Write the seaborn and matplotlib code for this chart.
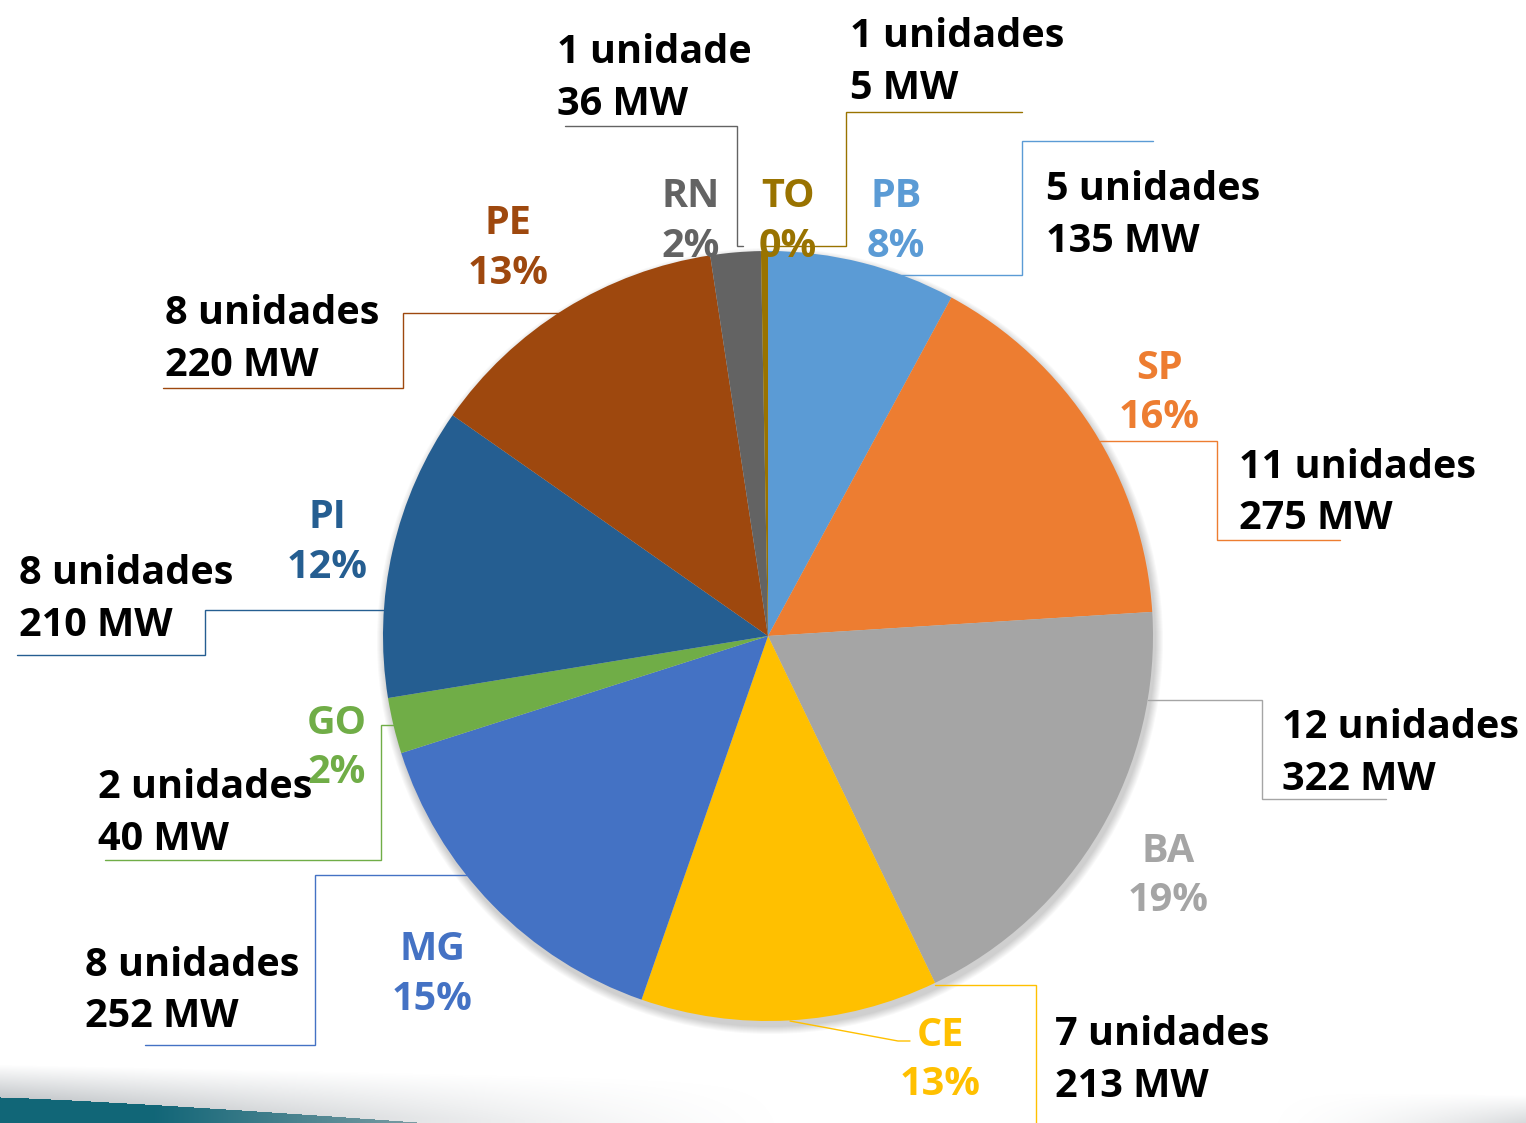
import numpy as np
import matplotlib
matplotlib.use("Agg")
import matplotlib.pyplot as plt
import seaborn as sns
from matplotlib.patches import Circle

# ---------------- data ----------------
states = ["PB", "SP", "BA", "CE", "MG", "GO", "PI", "PE", "RN", "TO"]
mw = [135, 275, 322, 213, 252, 40, 210, 220, 36, 5]
pct_labels = ["8%", "16%", "19%", "13%", "15%", "2%", "12%", "13%", "2%", "0%"]
unit_labels = ["5 unidades", "11 unidades", "12 unidades", "7 unidades", "8 unidades",
               "2 unidades", "8 unidades", "8 unidades", "1 unidade", "1 unidades"]
mw_labels = [f"{v} MW" for v in mw]
colors = ["#5B9BD5", "#ED7D31", "#A5A5A5", "#FFC000", "#4472C4",
          "#70AD47", "#255E91", "#9E480E", "#636363", "#997300"]

# ---------------- layout (pixel coordinates, y downward) ----------------
W, H = 1526, 1123
CX, CY, R = 768, 636, 385

# state label: centre x, baseline of name, baseline of percentage
state_pos = {
    "PB": (896, 207, 257), "SP": (1159, 379, 428), "BA": (1168, 862, 911),
    "CE": (940, 1046, 1095), "MG": (432, 960, 1010), "GO": (337, 734, 783),
    "PI": (327, 528, 578), "PE": (508, 234, 284), "RN": (691, 207, 257),
    "TO": (788, 207, 257),
}
# info label: left x, baseline line 1, baseline line 2
info_pos = {
    "PB": (1046, 200, 252), "SP": (1239, 478, 529), "BA": (1282, 738, 790),
    "CE": (1055, 1045, 1097), "MG": (85, 976, 1027), "GO": (98, 798, 850),
    "PI": (19, 584, 636), "PE": (165, 324, 376), "RN": (557, 63, 115),
    "TO": (850, 47, 99),
}
# leader lines
leaders = {
    "PB": [[(872, 275), (1022, 275), (1022, 141), (1153, 141)]],
    "SP": [[(1100, 441), (1217, 441), (1217, 540), (1340, 540)]],
    "BA": [[(1148, 700), (1262, 700), (1262, 799), (1386, 799)]],
    "CE": [[(790, 1021), (898, 1041), (910, 1041)],
           [(935, 985), (1036, 985), (1036, 1123)]],
    "MG": [[(468, 875), (315, 875), (315, 1045), (145, 1045)]],
    "GO": [[(394, 725), (381, 725), (381, 860), (105, 860)]],
    "PI": [[(395, 610), (205, 610), (205, 655), (17, 655)]],
    "PE": [[(560, 313), (403, 313), (403, 388), (163, 388)]],
    "RN": [[(743, 246), (737, 246), (737, 126), (565, 126)]],
    "TO": [[(763, 246), (846, 246), (846, 112), (1022, 112)]],
}
text_colors = dict(zip(states, colors))

# ---------------- figure ----------------
sns.set_theme(style="white")
plt.rcParams["font.family"] = ["Open Sans", "DejaVu Sans"]

fig = plt.figure(figsize=(W / 100, H / 100), dpi=100)
ax = fig.add_axes([0, 0, 1, 1])

# bottom decorative swoosh
yy, xx = np.mgrid[0:H, 0:W].astype(float)
img = np.ones((H, W, 4))
img[..., 3] = 0.0
top = 1064 + 0.02 * xx
shade = np.clip((yy - top) / 45.0, 0, 1)
fade = np.clip(1 - xx / 800.0, 0, 1) ** 1.5 + np.clip((xx - 1250) / 276.0, 0, 1) ** 2 * 0.8
a_gray = np.clip(shade * fade, 0, 1) * 0.7
gray = np.array([0.55, 0.58, 0.60])
img[..., :3] = gray
img[..., 3] = a_gray
teal_edge = 1097 + (xx / 430.0) ** 1.2 * 26
teal = (yy >= teal_edge) & (xx < 440)
teal_col = np.array([0.07, 0.40, 0.47])
tfade = np.clip(1 - xx / 440.0, 0, 1)
mix = np.clip(0.35 + tfade, 0, 1)
for c in range(3):
    img[..., c] = np.where(teal, teal_col[c] * mix + (1 - mix) * 0.75, img[..., c])
img[..., 3] = np.where(teal, 1.0, img[..., 3])
ax.imshow(img, extent=(0, W, H, 0), zorder=0, interpolation="bilinear")

# soft shadow under pie
for k in range(8):
    ax.add_patch(Circle((CX + 2, CY + 5), R + 1 + k, facecolor="black",
                        edgecolor="none", alpha=0.022, zorder=1))

wedges, _ = ax.pie(mw, colors=colors, startangle=-90, counterclock=True,
                   radius=R, center=(CX, CY),
                   wedgeprops=dict(linewidth=0, zorder=2))

for st in states:
    for pts in leaders[st]:
        xs, ys = zip(*pts)
        ax.plot(xs, ys, color=text_colors[st], lw=1.0, zorder=3,
                solid_joinstyle="miter")

fs = 28.5
for i, st in enumerate(states):
    x, y1, y2 = state_pos[st]
    ax.text(x, y1, st, color=text_colors[st], fontsize=fs, fontweight="bold",
            ha="center", va="baseline", zorder=4)
    ax.text(x, y2, pct_labels[i], color=text_colors[st], fontsize=fs,
            fontweight="bold", ha="center", va="baseline", zorder=4)
    x, y1, y2 = info_pos[st]
    ax.text(x, y1, unit_labels[i], color="black", fontsize=fs, fontweight="bold",
            ha="left", va="baseline", zorder=4)
    ax.text(x, y2, mw_labels[i], color="black", fontsize=fs, fontweight="bold",
            ha="left", va="baseline", zorder=4)

ax.set_xlim(0, W)
ax.set_ylim(H, 0)
ax.set_aspect("auto")
ax.axis("off")

fig.savefig("out.png", dpi=100, facecolor="white")
